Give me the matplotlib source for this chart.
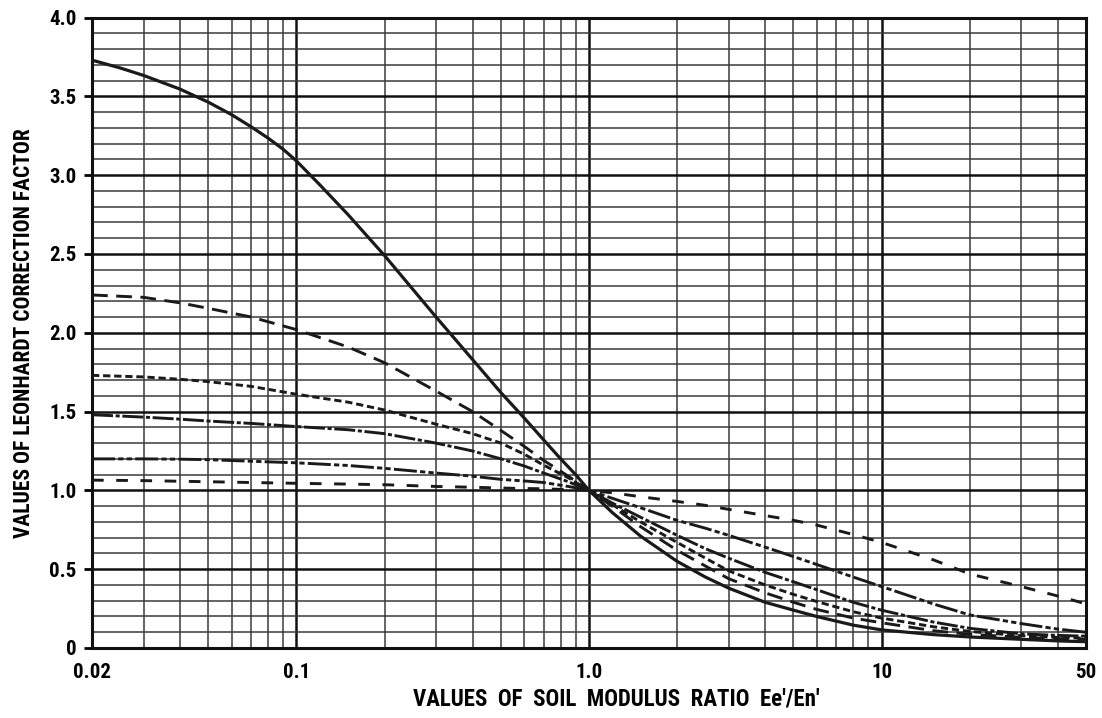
import matplotlib
matplotlib.use("Agg")
import matplotlib.pyplot as plt
from matplotlib import font_manager
from matplotlib.ticker import FixedLocator, NullFormatter

# pick a narrow bold face if one is installed
installed = {f.name for f in font_manager.fontManager.ttflist}
candidates = ['Liberation Sans Narrow', 'DejaVu Sans Condensed', 'Roboto Condensed',
              'Open Sans Condensed', 'Liberation Sans', 'DejaVu Sans']
family = [c for c in candidates if c in installed][:1] + ['DejaVu Sans']
plt.rcParams['font.family'] = family

# curve values (x = soil modulus ratio, y = correction factor)
x_a = [0.02, 0.025, 0.03, 0.04, 0.05, 0.06, 0.07, 0.08, 0.09, 0.1, 0.12, 0.15, 0.2, 0.3, 0.4, 0.5, 0.6,
       0.7, 0.8, 0.9, 1.0, 1.2, 1.5, 2, 2.5, 3, 4, 5, 6, 8, 10, 15, 20, 30, 40, 50]
y_a = [3.73, 3.68, 3.633, 3.546, 3.463, 3.384, 3.307, 3.235, 3.165, 3.09, 2.94, 2.75, 2.49, 2.10, 1.83, 1.62, 1.46,
       1.32, 1.20, 1.10, 1.0, 0.86, 0.71, 0.55, 0.45, 0.38, 0.29, 0.24, 0.20, 0.145, 0.115, 0.085, 0.07,
       0.055, 0.045, 0.04]

x_std = [0.02, 0.03, 0.04, 0.05, 0.07, 0.1, 0.15, 0.2, 0.3, 0.4, 0.5, 0.6, 0.7, 0.85,
         1.0, 1.2, 1.5, 2, 2.5, 3, 4, 5, 6, 8, 10, 15, 20, 30, 40, 50]
y_b = [2.24, 2.225, 2.19, 2.155, 2.10, 2.02, 1.91, 1.81, 1.63, 1.50, 1.38, 1.28, 1.19, 1.09,
       1.0, 0.90, 0.77, 0.62, 0.52, 0.44, 0.35, 0.29, 0.245, 0.19, 0.16, 0.11, 0.087, 0.068, 0.06, 0.055]
y_c = [1.73, 1.72, 1.705, 1.69, 1.66, 1.61, 1.56, 1.51, 1.42, 1.36, 1.30, 1.23, 1.16, 1.08,
       1.0, 0.91, 0.80, 0.67, 0.57, 0.49, 0.40, 0.34, 0.295, 0.23, 0.19, 0.135, 0.105, 0.078, 0.067, 0.062]
y_d = [1.48, 1.465, 1.452, 1.44, 1.425, 1.405, 1.385, 1.36, 1.30, 1.25, 1.20, 1.155, 1.11, 1.055,
       1.0, 0.92, 0.83, 0.715, 0.63, 0.57, 0.48, 0.42, 0.37, 0.29, 0.24, 0.165, 0.125, 0.09, 0.08, 0.075]
y_e = [1.20, 1.20, 1.198, 1.195, 1.185, 1.175, 1.158, 1.14, 1.11, 1.09, 1.07, 1.06, 1.05, 1.025,
       1.0, 0.95, 0.89, 0.81, 0.76, 0.715, 0.64, 0.58, 0.53, 0.45, 0.39, 0.28, 0.21, 0.155, 0.12, 0.10]
y_f = [1.065, 1.062, 1.058, 1.055, 1.05, 1.045, 1.04, 1.036, 1.025, 1.02, 1.015, 1.012, 1.01, 1.005,
       1.0, 0.985, 0.96, 0.93, 0.905, 0.88, 0.84, 0.81, 0.78, 0.72, 0.67, 0.56, 0.47, 0.39, 0.33, 0.28]

x_ticks = [0.02, 0.1, 1.0, 10, 50]
x_labels = ['0.02', '0.1', '1.0', '10', '50']
y_ticks = [0, 0.5, 1.0, 1.5, 2.0, 2.5, 3.0, 3.5, 4.0]
y_labels = ['0', '0.5', '1.0', '1.5', '2.0', '2.5', '3.0', '3.5', '4.0']

fig = plt.figure(figsize=(11.02, 7.18), dpi=100)
ax = fig.add_axes([0.0835, 0.0975, 0.902, 0.878])
ax.set_xscale('log')
ax.set_xlim(0.02, 50)
ax.set_ylim(0, 4.0)

# grid
minor_x = [v * d for d in (0.01, 0.1, 1, 10) for v in range(2, 10)]
minor_x = [v for v in minor_x if 0.02 < v < 50]
for v in sorted(set(minor_x)):
    ax.axvline(v, color='#3a3a3a', lw=1.1, zorder=1)
for v in (0.1, 1.0, 10):
    ax.axvline(v, color='#111111', lw=1.8, zorder=1)
for i in range(1, 40):
    yv = i / 10
    if i % 5 == 0:
        ax.axhline(yv, color='#111111', lw=1.8, zorder=1)
    else:
        ax.axhline(yv, color='#3a3a3a', lw=1.1, zorder=1)

lc = '#1a1a1a'
ax.plot(x_a, y_a, color=lc, lw=2.3, zorder=3)
ax.plot(x_std, y_b, color=lc, lw=2.1, dashes=(5.4, 2.9), zorder=3)
ax.plot(x_std, y_c, color=lc, lw=2.1, dashes=(2.5, 1.3), zorder=3)
ax.plot(x_std, y_d, color=lc, lw=2.1, dashes=(7.2, 0.9, 1.4, 0.9), zorder=3)
ax.plot(x_std, y_e, color=lc, lw=2.1, dashes=(7.9, 1.1, 1.8, 1.1, 1.8, 1.1), zorder=3)
ax.plot(x_std, y_f, color=lc, lw=2.1, dashes=(4.0, 4.3), zorder=3)

ax.xaxis.set_major_locator(FixedLocator(x_ticks))
ax.xaxis.set_minor_locator(FixedLocator([]))
ax.xaxis.set_minor_formatter(NullFormatter())
ax.set_xticks(x_ticks)
ax.set_xticklabels(x_labels)
ax.set_yticks(y_ticks)
ax.set_yticklabels(y_labels)
ax.tick_params(axis='x', length=0, pad=11, labelsize=15)
ax.tick_params(axis='y', length=6, width=2, direction='out', pad=5, labelsize=15)
for lab in ax.get_xticklabels() + ax.get_yticklabels():
    lab.set_fontweight('bold')

for s in ax.spines.values():
    s.set_linewidth(2.2)
    s.set_color('#111111')

ax.set_xlabel("VALUES  OF  SOIL  MODULUS  RATIO  Ee'/En'", fontsize=16.5, fontweight='bold')
ax.xaxis.set_label_coords(0.527, -0.062)
ax.set_ylabel("VALUES OF LEONHARDT CORRECTION FACTOR", fontsize=15.5, fontweight='bold', labelpad=10)

fig.savefig('out.png', dpi=100)
